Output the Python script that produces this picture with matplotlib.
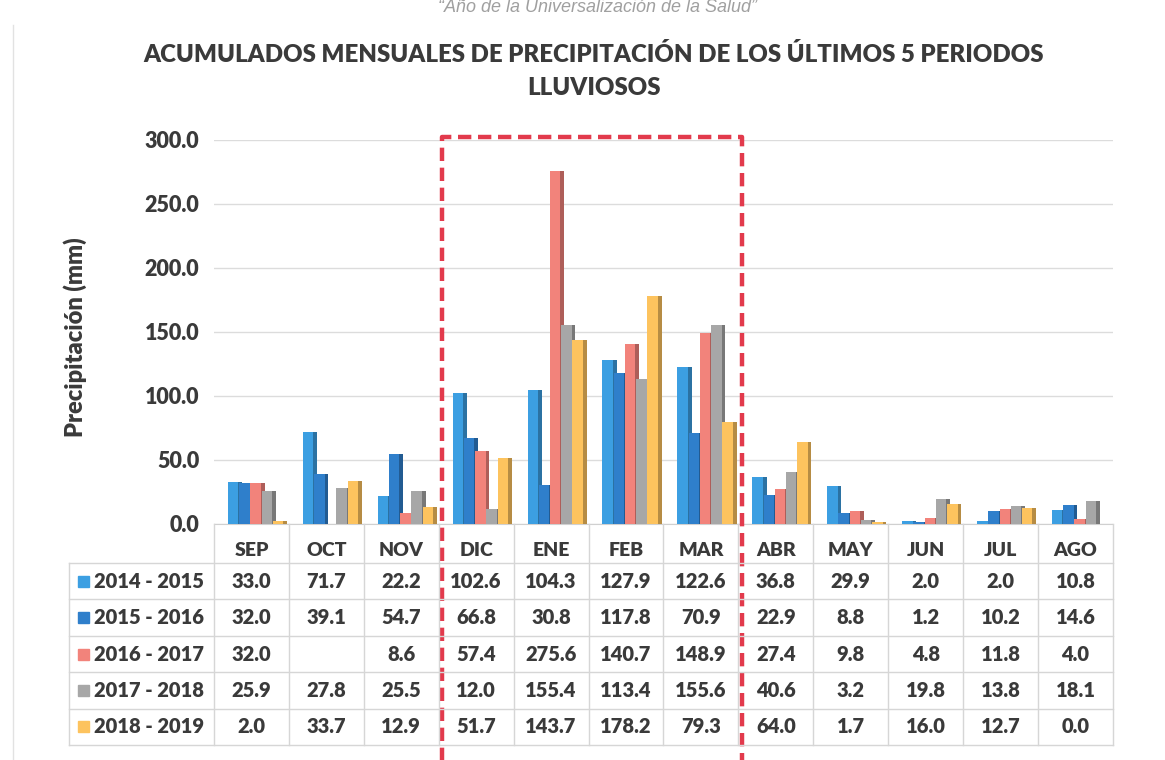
import numpy as np
import matplotlib
matplotlib.use('Agg')
import matplotlib.pyplot as plt
from matplotlib.patches import Rectangle
from matplotlib.lines import Line2D
from matplotlib.colors import to_rgb

months = ['SEP', 'OCT', 'NOV', 'DIC', 'ENE', 'FEB', 'MAR', 'ABR', 'MAY', 'JUN', 'JUL', 'AGO']
periods = ['2014 - 2015', '2015 - 2016', '2016 - 2017', '2017 - 2018', '2018 - 2019']
p2014_2015 = [33.0, 71.7, 22.2, 102.6, 104.3, 127.9, 122.6, 36.8, 29.9, 2.0, 2.0, 10.8]
p2015_2016 = [32.0, 39.1, 54.7, 66.8, 30.8, 117.8, 70.9, 22.9, 8.8, 1.2, 10.2, 14.6]
p2016_2017 = [32.0, None, 8.6, 57.4, 275.6, 140.7, 148.9, 27.4, 9.8, 4.8, 11.8, 4.0]
p2017_2018 = [25.9, 27.8, 25.5, 12.0, 155.4, 113.4, 155.6, 40.6, 3.2, 19.8, 13.8, 18.1]
p2018_2019 = [2.0, 33.7, 12.9, 51.7, 143.7, 178.2, 79.3, 64.0, 1.7, 16.0, 12.7, 0.0]
series = [p2014_2015, p2015_2016, p2016_2017, p2017_2018, p2018_2019]
yticks = [0, 50, 100, 150, 200, 250, 300]

colors = ['#3c9fe2', '#2f7fcb', '#f2837b', '#a7a7a7', '#fdc35e']
TXT = '#3a3a3a'
FONT = 'Lato'
WT = 'heavy'

W, H = 1165, 760
fig = plt.figure(figsize=(W / 100, H / 100), dpi=100)
fig.patch.set_facecolor('white')


def px(x0, y0, x1, y1):
    return [x0 / W, 1 - y1 / H, (x1 - x0) / W, (y1 - y0) / H]


def darker(c, f=0.72):
    r, g, b = to_rgb(c)
    return (r * f, g * f, b * f)


ax = fig.add_axes(px(214, 140, 1113, 524))
x = np.arange(len(months))
step, fw, sw, c0 = 0.15, 0.14, 0.05, 0.055
for i, vals in enumerate(series):
    v = np.array([np.nan if a is None else a for a in vals], dtype=float)
    xc = x + (i - 2) * step + c0
    # side face (3D look)
    ax.bar(xc + fw / 2 + sw / 2, v, width=sw, color=darker(colors[i]), zorder=3 + 2 * i, linewidth=0)
    ax.bar(xc, v, width=fw, color=colors[i], zorder=4 + 2 * i, linewidth=0)

ax.set_yticks(yticks)
ax.set_yticklabels([f'{t:.1f}' for t in yticks], fontsize=15.5, fontweight=WT, color=TXT, family=FONT)
ax.tick_params(axis='y', length=0, pad=10.5)
ax.tick_params(axis='x', length=0, labelbottom=False)
ax.yaxis.grid(True, color='#dcdcdc', linewidth=1)
ax.set_axisbelow(True)
for s in ['top', 'right', 'left']:
    ax.spines[s].set_visible(False)
ax.spines['bottom'].set_color('#d0d0d0')

# red dashed highlight box (DIC - MAR)
ax.plot([2.55, 2.55, 6.55, 6.55], [-200, 302.3, 302.3, -200], color='#e23a4c', lw=3.2,
        ls=(0, (3.0, 1.5)), clip_on=False, zorder=20, solid_joinstyle='miter')
ax.set_xlim(-0.5, 11.5)
ax.set_ylim(0, 300)

# data table
tax = fig.add_axes(px(69, 524, 1113, 745))
tax.set_xlim(-2.435, 11.5)
tax.set_ylim(745, 524)
tax.axis('off')
rows = [563, 599.5, 636, 672.5, 709, 745]
gc = '#d6d6d6'
for yb in rows:
    tax.plot([-2.435, 11.5], [yb, yb], color=gc, lw=1, clip_on=False)
for k in range(13):
    tax.plot([k - 0.5, k - 0.5], [524, 745], color=gc, lw=1, clip_on=False)
tax.plot([-2.435, -2.435], [563, 745], color=gc, lw=1, clip_on=False)
for k, m in enumerate(months):
    tax.text(k, 551, m, ha='center', va='center', fontsize=14, fontweight=WT, color=TXT, family=FONT)
ppx = 1 / 74.92
for i, (name, vals) in enumerate(zip(periods, series)):
    yc = (rows[i] + rows[i + 1]) / 2
    tax.add_patch(Rectangle((-2.435 + (78 - 69) * ppx, yc - 5.5), 11 * ppx, 11, color=colors[i], clip_on=False))
    tax.text(-2.435 + (94 - 69) * ppx, yc, name, ha='left', va='center', fontsize=14.5, fontweight=WT,
             color=TXT, family=FONT)
    for k, a in enumerate(vals):
        if a is None:
            continue
        tax.text(k, yc, f'{a:.1f}', ha='center', va='center', fontsize=14.5, fontweight=WT, color=TXT, family=FONT)

# titles and labels
fig.text(594 / W, 1 - 55 / H, 'ACUMULADOS MENSUALES DE PRECIPITACIÓN DE LOS ÚLTIMOS 5 PERIODOS',
         ha='center', va='center', fontsize=17.3, fontweight=WT, color=TXT, family=FONT)
fig.text(594 / W, 1 - 88 / H, 'LLUVIOSOS', ha='center', va='center', fontsize=17.3, fontweight=WT,
         color=TXT, family=FONT)
fig.text(75 / W, 1 - 337 / H, 'Precipitación (mm)', rotation=90, ha='center', va='center', fontsize=17,
         fontweight=WT, color=TXT, family=FONT)
fig.text(597 / W, 1 - 12 / H, '“Año de la Universalización de la Salud”', ha='center', va='baseline',
         fontsize=13, style='italic', color='#a0a0a0', family='Liberation Sans')
fig.add_artist(Line2D([13 / W, 13 / W], [0, 1 - 25 / H], color='#e2e2e2', lw=1))

fig.savefig('out.png', dpi=100, facecolor='white')
